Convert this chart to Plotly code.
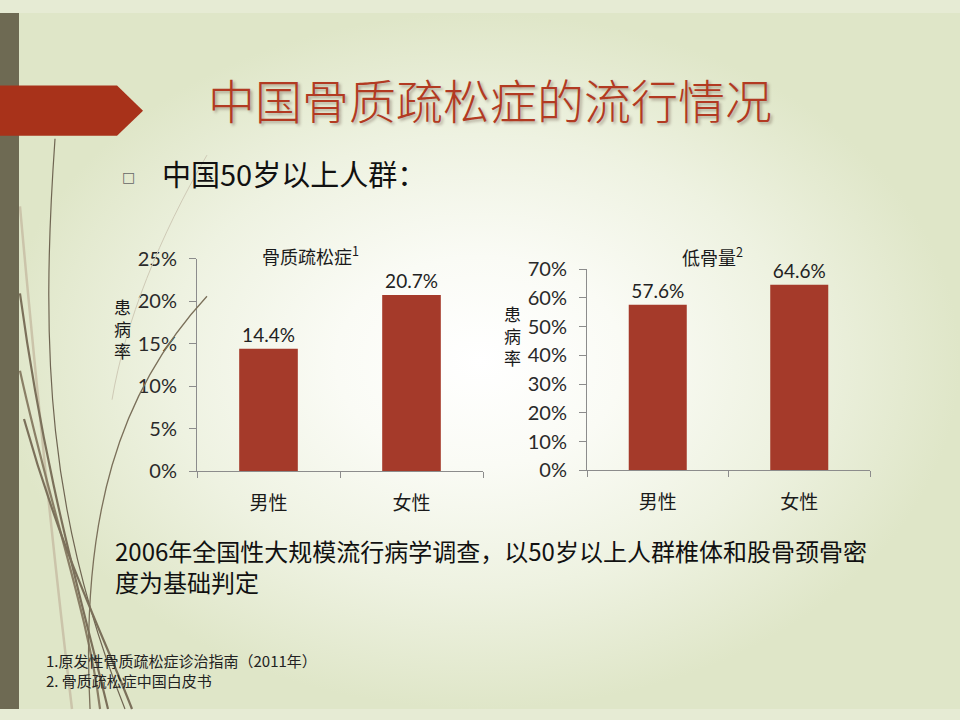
import plotly.graph_objects as go

W, H = 960, 720

# chart data
categories = ["男性", "女性"]
osteoporosis = [14.4, 20.7]
low_bone_mass = [57.6, 64.6]
left_ticks = [0, 5, 10, 15, 20, 25]
right_ticks = [0, 10, 20, 30, 40, 50, 60, 70]

slide_title = "中国骨质疏松症的流行情况"
bullet_text = "中国50岁以上人群："
left_title = "骨质疏松症<sup>1</sup>"
right_title = "低骨量<sup>2</sup>"
y_title = "患<br>病<br>率"
note_text = "2006年全国性大规模流行病学调查，以50岁以上人群椎体和股骨颈骨密<br>度为基础判定"
refs = ["1.原发性骨质疏松症诊治指南（2011年）", "2. 骨质疏松症中国白皮书"]

CJK = "Noto Sans CJK SC"
NUM = "Lato"
BAR = "#A53A2A"
AXIS = "#8C8C8C"


def px(x):
    return x / W


def py(y):
    return 1 - y / H


def path(pts):
    # pts in pixels: first point then cubic control triples
    s = "M %.4f %.4f" % (px(pts[0][0]), py(pts[0][1]))
    rest = pts[1:]
    for i in range(0, len(rest), 3):
        s += " C " + ", ".join("%.4f %.4f" % (px(a), py(b)) for a, b in rest[i:i + 3])
    return s


fig = go.Figure()

# soft radial background
fig.add_trace(go.Scatter(
    x=[0, 1, 1, 0, 0], y=[0, 0, 1, 1, 0], fill="toself", mode="none",
    fillgradient=dict(type="radial",
                      colorscale=[[0, "#FFFFFF"], [0.3, "#FAFBF5"], [0.65, "#EEF2E1"],
                                  [1, "#DFE6C8"]]),
    hoverinfo="skip", showlegend=False, xaxis="x", yaxis="y"))

fig.add_trace(go.Bar(
    x=categories, y=osteoporosis, xaxis="x2", yaxis="y2", width=0.41,
    marker=dict(color=BAR, line=dict(width=0)),
    texttemplate="%{y:.1f}%", textposition="outside", cliponaxis=False,
    textfont=dict(family=NUM, size=19, color="#222222"), showlegend=False))

fig.add_trace(go.Bar(
    x=categories, y=low_bone_mass, xaxis="x3", yaxis="y3", width=0.41,
    marker=dict(color=BAR, line=dict(width=0)),
    texttemplate="%{y:.1f}%", textposition="outside", cliponaxis=False,
    textfont=dict(family=NUM, size=19, color="#222222"), showlegend=False))

xcommon = dict(showline=True, linecolor=AXIS, linewidth=1, ticks="outside",
               tickson="boundaries", ticklen=6, tickcolor=AXIS, showgrid=False,
               ticklabelstandoff=15,
               tickfont=dict(family=CJK, size=19, color="#1A1A1A"))
ycommon = dict(showline=True, linecolor=AXIS, linewidth=1, ticks="outside",
               ticklen=7, tickcolor=AXIS, showgrid=False, zeroline=False,
               ticklabelstandoff=8,
               tickfont=dict(family=NUM, size=20, color="#2A2A2A"))

fig.update_layout(
    width=W, height=H, margin=dict(l=0, r=0, t=0, b=0),
    paper_bgcolor="#E6EBD4", plot_bgcolor="rgba(0,0,0,0)",
    bargap=0.59,
    xaxis=dict(domain=[0, 1], range=[0, 1], visible=False, fixedrange=True),
    yaxis=dict(domain=[0, 1], range=[0, 1], visible=False, fixedrange=True),
    xaxis2=dict(domain=[px(197), px(483)], anchor="y2", **xcommon),
    yaxis2=dict(domain=[py(474), py(254)], anchor="x2", range=[0, 25],
                tickvals=left_ticks, ticktext=["%d%%" % v for v in left_ticks], **ycommon),
    xaxis3=dict(domain=[px(587), px(870)], anchor="y3", **xcommon),
    yaxis3=dict(domain=[py(473), py(265)], anchor="x3", range=[0, 70],
                tickvals=right_ticks, ticktext=["%d%%" % v for v in right_ticks], **ycommon),
)

shapes = []
# decorative swoosh lines on the left
curves = [
    ([(55, 130), (40, 350), (48, 520), (125, 720)], "#6F6552", 1.2),
    ([(20, 200), (42, 450), (58, 600), (72, 720)], "#CBC4AA", 2.5),
    ([(20, 290), (45, 480), (80, 600), (108, 720)], "#7B705A", 2.2),
    ([(20, 370), (52, 520), (88, 620), (100, 720)], "#8A7F66", 2.2),
    ([(24, 420), (62, 560), (102, 640), (132, 720)], "#7B705A", 2.2),
    ([(207, 293), (120, 390), (80, 520), (90, 720)], "#7B705A", 1.3),
    ([(207, 147), (160, 230), (125, 320), (112, 400)], "#CFCAB6", 1.0),
]
for pts, col, wd in curves:
    shapes.append(dict(type="path", xref="paper", yref="paper", path=path(pts),
                       line=dict(color=col, width=wd), layer="above"))

# olive side band
shapes.append(dict(type="rect", xref="paper", yref="paper", x0=0, x1=px(19), y0=0, y1=1,
                   fillcolor="#6E6A53", line=dict(width=0)))
# red arrow banner
arrow = "M 0 %.4f L %.4f %.4f L %.4f %.4f L %.4f %.4f L 0 %.4f Z" % (
    py(75), px(117), py(75), px(143), py(101), px(117), py(127), py(127))
shapes.append(dict(type="path", xref="paper", yref="paper", path=arrow,
                   fillcolor="#A8321A", line=dict(width=0)))
fig.update_layout(shapes=shapes)


def note(x, y, text, size, color="#1A1A1A", anchor="left", family=CJK, **kw):
    return dict(x=px(x), y=py(y), text=text, showarrow=False, xref="paper", yref="paper",
                xanchor=anchor, yanchor="middle",
                font=dict(family=family, size=size, color=color, **kw))


ann = [
    note(490, 88, slide_title, 47, "#B23A22", "center", weight=300,
         shadow="2px 2px 3px rgba(60,30,20,0.35)"),
    note(128, 170, "□", 14, "#666666", "center", family="DejaVu Sans"),
    note(160, 166, bullet_text, 29, "#111111"),
    note(310, 250, left_title, 18, anchor="center"),
    note(712, 251, right_title, 18, anchor="center"),
]
for xc, yc in [(122, 326), (512, 334)]:
    a = note(xc, yc, y_title, 17, anchor="center")
    a["align"] = "center"
    ann.append(a)
a = note(113, 572, note_text, 24, "#111111")
a["align"] = "left"
ann.append(a)
for i, r in enumerate(refs):
    ann.append(note(44, 670 + 20 * i, r, 15, "#222222"))
fig.update_layout(annotations=ann)

fig.write_html("out.html", config={"displayModeBar": False},
               post_script="document.body.style.margin='0px';")
